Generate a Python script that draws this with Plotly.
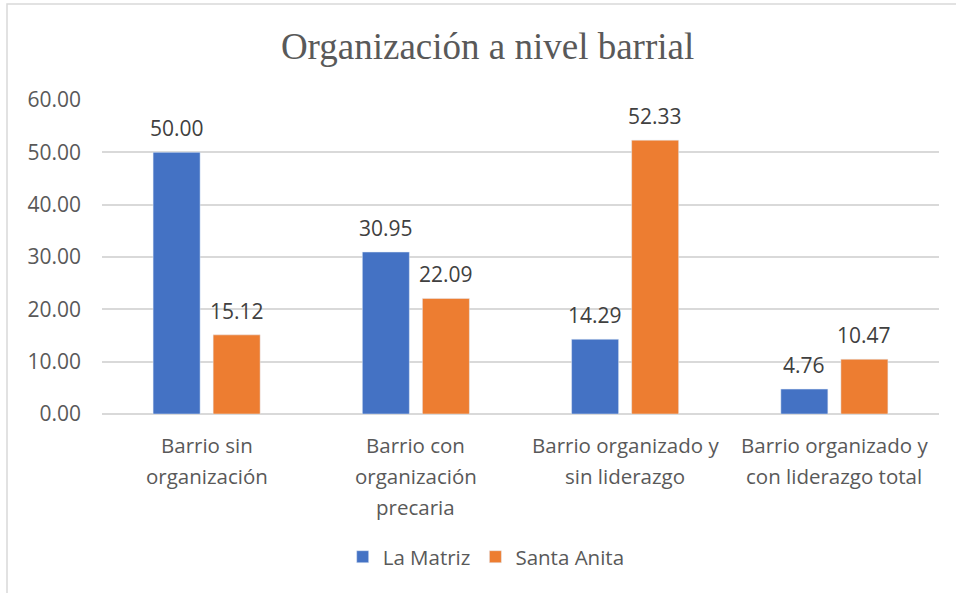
import plotly.graph_objects as go

categories = ["Barrio sin organización", "Barrio con organización precaria",
              "Barrio organizado y sin liderazgo", "Barrio organizado y con liderazgo total"]
label_lines = [["Barrio sin", "organización"],
               ["Barrio con", "organización", "precaria"],
               ["Barrio organizado y", "sin liderazgo"],
               ["Barrio organizado y", "con liderazgo total"]]
la_matriz = [50.00, 30.95, 14.29, 4.76]
santa_anita = [15.12, 22.09, 52.33, 10.47]
y_ticks = [0, 10, 20, 30, 40, 50, 60]

FONT = "Open Sans"
FS = 20.5
FN = 21
series = [("La Matriz", la_matriz, "#4472C4", -30), ("Santa Anita", santa_anita, "#ED7D31", 30)]

fig = go.Figure()
for name, vals, col, dx in series:
    fig.add_trace(go.Bar(name=name, x=categories, y=vals, marker_color=col))
    for cat, v in zip(categories, vals):
        fig.add_annotation(x=cat, y=v, xref="x", yref="y", xshift=dx, yshift=24,
                           yanchor="middle", text=f"{v:.2f}", showarrow=False,
                           font=dict(family=FONT, size=FN, color="#404040"))

for cat, lines in zip(categories, label_lines):
    for i, ln in enumerate(lines):
        fig.add_annotation(x=cat, xref="x", y=0, yref="paper", yanchor="middle",
                           yshift=-31 - 31 * i, text=ln, showarrow=False,
                           font=dict(family=FONT, size=FS, color="#595959"))

fig.add_shape(type="rect", xref="paper", yref="paper", x0=-0.1135, x1=1.3, y0=-1.0, y1=1.306,
              line=dict(color="#d9d9d9", width=1.5), fillcolor="rgba(0,0,0,0)", layer="below")

fig.update_layout(
    width=956, height=593,
    margin=dict(l=102, r=17, t=100, b=179),
    paper_bgcolor="white", plot_bgcolor="white",
    title=dict(text="Organización a nivel barrial", x=0.51, xanchor="center", y=0.922, yanchor="middle",
               font=dict(family="Liberation Serif", size=37, color="#595959")),
    barmode="group", bargap=0.426, bargroupgap=0.217,
    showlegend=True,
    legend=dict(orientation="h", x=0.459, xanchor="center", y=-0.455, yanchor="middle",
                font=dict(family=FONT, size=FS, color="#595959"), itemwidth=30),
    xaxis=dict(showticklabels=False, showline=False, showgrid=False),
    yaxis=dict(range=[0, 60], tickvals=y_ticks, tickformat=".2f", showgrid=True,
               gridcolor="#d9d9d9", gridwidth=1.5, zeroline=True, zerolinecolor="#d9d9d9",
               zerolinewidth=1.5, ticklabelstandoff=20,
               tickfont=dict(family=FONT, size=FN, color="#595959")),
)
fig.write_html("out.html", config={"displayModeBar": False},
               post_script="document.body.style.margin='0';")
